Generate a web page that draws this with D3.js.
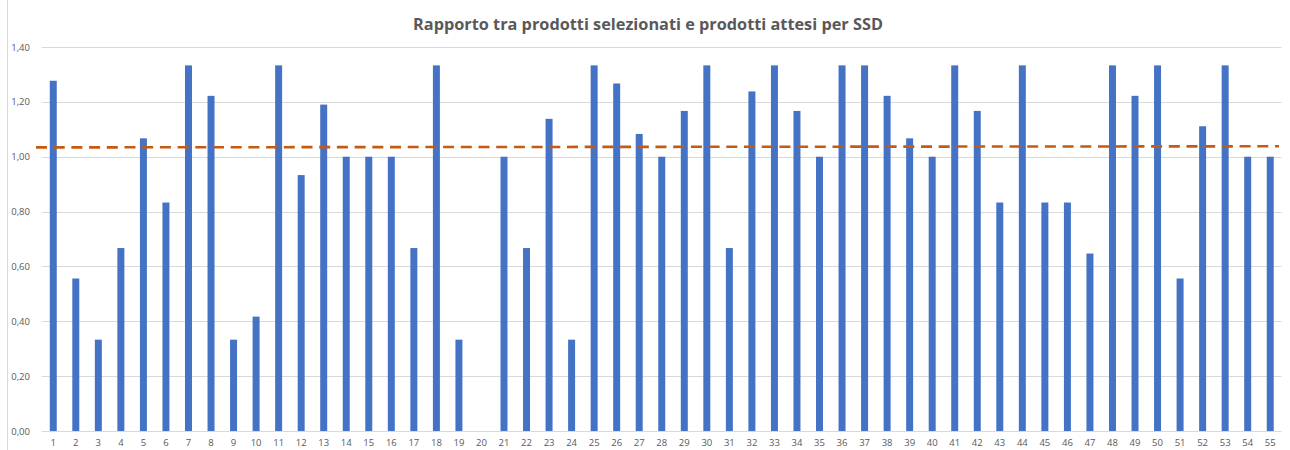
<!DOCTYPE html>
<html>
<head>
<meta charset="utf-8">
<script src="https://cdn.jsdelivr.net/npm/d3@7"></script>
<style>
  html, body { margin: 0; padding: 0; background: #fff; }
  svg { display: block; font-family: "Open Sans", "Liberation Sans", sans-serif; }
</style>
</head>
<body>
<svg id="chart" width="1290" height="450"></svg>
<script>
// SSD codes 1..55
const categories = d3.range(1, 56).map(String);

// Ratio of selected products to expected products for each SSD
const ratios = [
  1.277, 0.556, 0.333, 0.667, 1.067, 0.833, 1.333, 1.222, 0.333, 0.417,
  1.333, 0.933, 1.190, 1.000, 1.000, 1.000, 0.667, 1.333, 0.333, 0.000,
  1.000, 0.667, 1.138, 0.333, 1.333, 1.267, 1.083, 1.000, 1.167, 1.333,
  0.667, 1.238, 1.333, 1.167, 1.000, 1.333, 1.333, 1.222, 1.067, 1.000,
  1.333, 1.167, 0.833, 1.333, 0.833, 0.833, 0.647, 1.333, 1.222, 1.333,
  0.556, 1.111, 1.333, 1.000, 1.000
];

// Linear trend line endpoints (first and last category)
const trendValues = [1.034, 1.038];

const yTicks = [0, 0.2, 0.4, 0.6, 0.8, 1.0, 1.2, 1.4];
const titleText = "Rapporto tra prodotti selezionati e prodotti attesi per SSD";

const svg = d3.select("#chart");
const margin = { left: 42, right: 8.5, top: 47, bottom: 19 };
const W = 1290, H = 450;

const x = d3.scaleBand()
  .domain(categories)
  .range([margin.left, W - margin.right])
  .paddingInner(0.69)
  .paddingOuter(0.345);

const y = d3.scaleLinear()
  .domain([0, 1.4])
  .range([H - margin.bottom, margin.top]);

const fmt = v => d3.format(".2f")(v).replace(".", ",");

// chart frame edge on the left
svg.append("line")
  .attr("x1", 7.5).attr("x2", 7.5)
  .attr("y1", 0).attr("y2", H)
  .attr("stroke", "#d9d9d9").attr("stroke-width", 1);

// title
svg.append("text")
  .attr("x", 648).attr("y", 30)
  .attr("text-anchor", "middle")
  .attr("font-size", 16.3)
  .attr("font-weight", "bold")
  .attr("fill", "#595959")
  .text(titleText);

// horizontal gridlines
svg.append("g")
  .selectAll("line")
  .data(yTicks.filter(d => d > 0))
  .join("line")
  .attr("x1", margin.left).attr("x2", W - margin.right)
  .attr("y1", d => Math.round(y(d)) + 0.5).attr("y2", d => Math.round(y(d)) + 0.5)
  .attr("stroke", "#d9d9d9").attr("stroke-width", 1);

// y axis labels
const yAxis = d3.axisLeft(y)
  .tickValues(yTicks)
  .tickFormat(fmt)
  .tickSize(0)
  .tickPadding(12);
const gy = svg.append("g")
  .attr("transform", `translate(${margin.left},0)`)
  .call(yAxis);
gy.select(".domain").remove();
gy.selectAll("text")
  .attr("font-size", 9.5)
  .attr("fill", "#595959")
  .attr("font-family", "'Open Sans', 'Liberation Sans', sans-serif");

// bars
svg.append("g")
  .selectAll("rect")
  .data(ratios)
  .join("rect")
  .attr("x", (d, i) => x(categories[i]))
  .attr("width", x.bandwidth())
  .attr("y", d => y(d))
  .attr("height", d => y(0) - y(d))
  .attr("fill", "#4472c4");

// x axis
const xAxis = d3.axisBottom(x).tickSize(0).tickPadding(8);
const gx = svg.append("g")
  .attr("transform", `translate(0,${Math.round(y(0)) + 0.5})`)
  .call(xAxis);
gx.select(".domain")
  .attr("stroke", "#d9d9d9")
  .attr("d", `M${margin.left},0H${W - margin.right}`);
gx.selectAll("text")
  .attr("font-size", 9.5)
  .attr("fill", "#595959")
  .attr("font-family", "'Open Sans', 'Liberation Sans', sans-serif");

// trend line
const xFirst = x(categories[0]) + x.bandwidth() / 2;
const xLast = x(categories[categories.length - 1]) + x.bandwidth() / 2;
const trendX = d3.scaleLinear().domain([xFirst, xLast]).range(trendValues);
const tx0 = 36, tx1 = 1279;
svg.append("line")
  .attr("x1", tx0).attr("y1", y(trendX(tx0)))
  .attr("x2", tx1).attr("y2", y(trendX(tx1)))
  .attr("stroke", "#c55a11")
  .attr("stroke-width", 2.6)
  .attr("stroke-dasharray", "11,6.7");
</script>
</body>
</html>
